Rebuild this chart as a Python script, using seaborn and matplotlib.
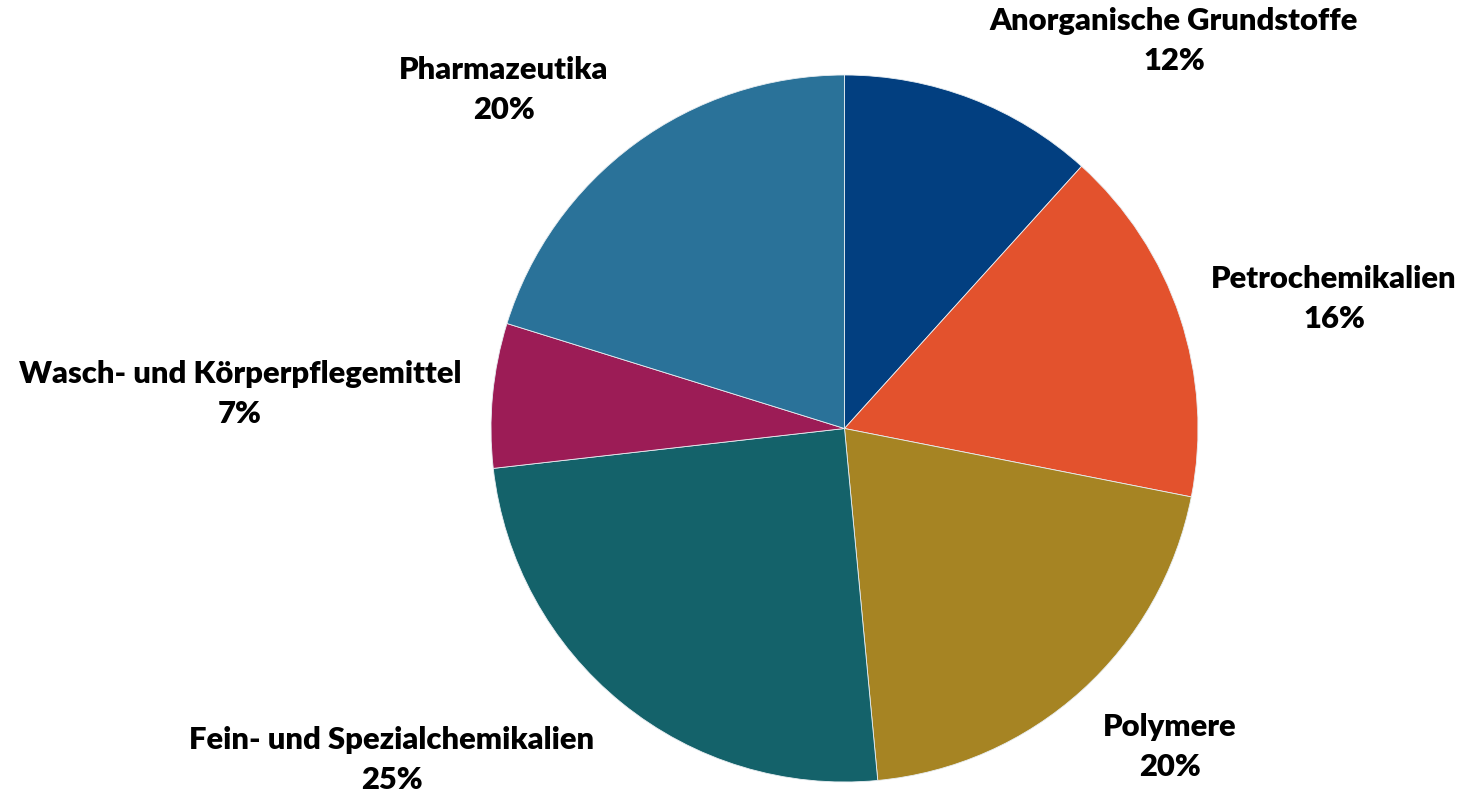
import matplotlib.pyplot as plt
import seaborn as sns

# shares of chemical production (percent)
categories = ['Anorganische Grundstoffe', 'Petrochemikalien', 'Polymere',
              'Fein- und Spezialchemikalien', 'Wasch- und Körperpflegemittel', 'Pharmazeutika']
shares = [11.7, 16.4, 20.4, 24.7, 6.6, 20.2]
colors = ['#023f80', '#e3522d', '#a68423', '#14626a', '#9c1c56', '#2a7299']

sns.set_theme(style='white')
plt.rcParams['font.family'] = ['Lato', 'DejaVu Sans']

W, H = 1465, 793
fig = plt.figure(figsize=(W / 100, H / 100), dpi=100)
ax = fig.add_axes([0, 0, 1, 1])

cx, cy, r = 844.5, 428.5, 353.5
ax.pie(shares, colors=sns.color_palette(colors), startangle=90, counterclock=False,
       radius=r, center=(cx, H - cy),
       wedgeprops=dict(linewidth=0.6, edgecolor='#e8eef2'))

# label block centres (pixel positions, y from top)
label_pos = [(1174, 41), (1334, 299), (1170, 747), (392, 760), (240, 394), (504, 90)]
for name, val, (x, y) in zip(categories, shares, label_pos):
    ax.text(x, H - y, f'{name}\n{round(val)}%', ha='center', va='center',
            fontsize=22.3, fontweight='heavy', color='black', linespacing=1.55)

ax.set_xlim(0, W)
ax.set_ylim(0, H)
ax.axis('off')

fig.savefig('out.png', dpi=100)
